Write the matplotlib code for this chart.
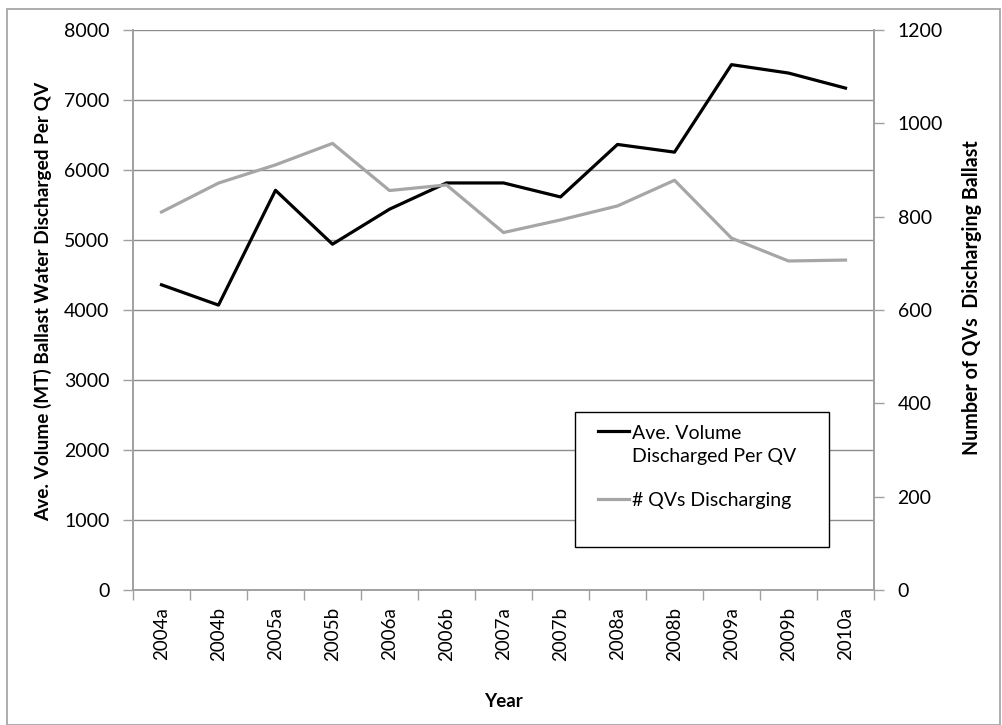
import matplotlib
matplotlib.use("Agg")
import matplotlib.pyplot as plt
import numpy as np
from matplotlib.patches import Rectangle
from matplotlib.legend_handler import HandlerLine2D

categories = ["2004a", "2004b", "2005a", "2005b", "2006a", "2006b", "2007a",
              "2007b", "2008a", "2008b", "2009a", "2009b", "2010a"]
avg_volume = [4360, 4070, 5710, 4940, 5440, 5815, 5815, 5615, 6365, 6255, 7505, 7385, 7170]
num_qvs = [810, 872, 911, 957, 856, 868, 766, 793, 823, 878, 754, 705, 707]

plt.rcParams['font.family'] = ['Lato', 'DejaVu Sans']

fig = plt.figure(figsize=(10.02, 7.25), dpi=100)
ax = fig.add_axes([133/1002, 1 - 590/725, (874 - 133)/1002, (590 - 30)/725])
ax2 = ax.twinx()

x = np.arange(len(categories))
grid_c = "#8C8C8C"
spine_c = "#A0A0A0"

l1, = ax.plot(x, avg_volume, color="black", lw=2.3, label="Ave. Volume\nDischarged Per QV", zorder=3)
l2, = ax2.plot(x, num_qvs, color="#A6A6A6", lw=2.3, label="# QVs Discharging", zorder=2)

ax.set_xlim(-0.5, len(categories) - 0.5)
ax.set_ylim(0, 8000)
ax.set_yticks(np.arange(0, 8001, 1000))
ax2.set_ylim(0, 1200)
ax2.set_yticks(np.arange(0, 1201, 200))

ax.yaxis.grid(True, color=grid_c, lw=1)
ax.set_axisbelow(True)

ax.set_xticks(x)
ax.set_xticklabels(categories, rotation=90)
ax.set_xticks(np.arange(-0.5, len(categories), 1), minor=True)
ax.tick_params(axis='x', which='major', length=0, pad=12, labelsize=13.5)
ax.tick_params(axis='x', which='minor', length=7, color=spine_c, width=1)
ax.tick_params(axis='y', length=7, color=spine_c, width=1, labelsize=14, pad=10)
ax2.tick_params(axis='y', length=7, color=spine_c, width=1, labelsize=14, pad=10)

for a in (ax, ax2):
    a.spines['top'].set_visible(False)
    for s in ('left', 'right', 'bottom'):
        a.spines[s].set_color(spine_c)
        a.spines[s].set_linewidth(1.2)

ax.set_ylabel("Ave. Volume (MT) Ballast Water Discharged Per QV", fontsize=13.7, fontweight='bold')
ax.yaxis.set_label_coords((52 - 133)/741, (590 - 301)/560)
ax2.set_ylabel("Number of QVs  Discharging Ballast", fontsize=14.1, fontweight='bold')
ax2.yaxis.set_label_coords((962 - 133)/741, (590 - 298)/560)
ax.set_xlabel("Year", fontsize=13.5, fontweight='bold', labelpad=23)


class UpHandler(HandlerLine2D):
    def __init__(self, shift=0.0, **kw):
        super().__init__(**kw)
        self.shift = shift

    def create_artists(self, legend, orig_handle, xdescent, ydescent, width, height, fontsize, trans):
        return super().create_artists(legend, orig_handle, xdescent, ydescent - self.shift,
                                      width, height, fontsize, trans)


ax.add_patch(Rectangle(((575 - 133)/741, (590 - 547)/560), (829 - 575)/741, (547 - 412)/560,
                       transform=ax.transAxes, facecolor='white', edgecolor='black',
                       lw=1.0, zorder=4))

fs = 14
leg = ax.legend(handles=[l1, l2], loc='upper left',
                bbox_to_anchor=((598 - 133)/741, (590 - 425)/560),
                fontsize=fs, frameon=False, handlelength=1.6, handletextpad=0.15,
                borderpad=0, labelspacing=1.35, borderaxespad=0,
                handler_map={l1: UpHandler(shift=fs * 1.45), l2: UpHandler(shift=0.0)})
for t in leg.get_texts():
    t.set_linespacing(1.45)
leg.set_zorder(5)

fig.patches.append(Rectangle((7/1002, 0.0), (1000 - 7)/1002, 1 - 9/725,
                             transform=fig.transFigure, fill=False,
                             edgecolor="#A0A0A0", lw=1.2))

fig.savefig("out.png", dpi=100)
